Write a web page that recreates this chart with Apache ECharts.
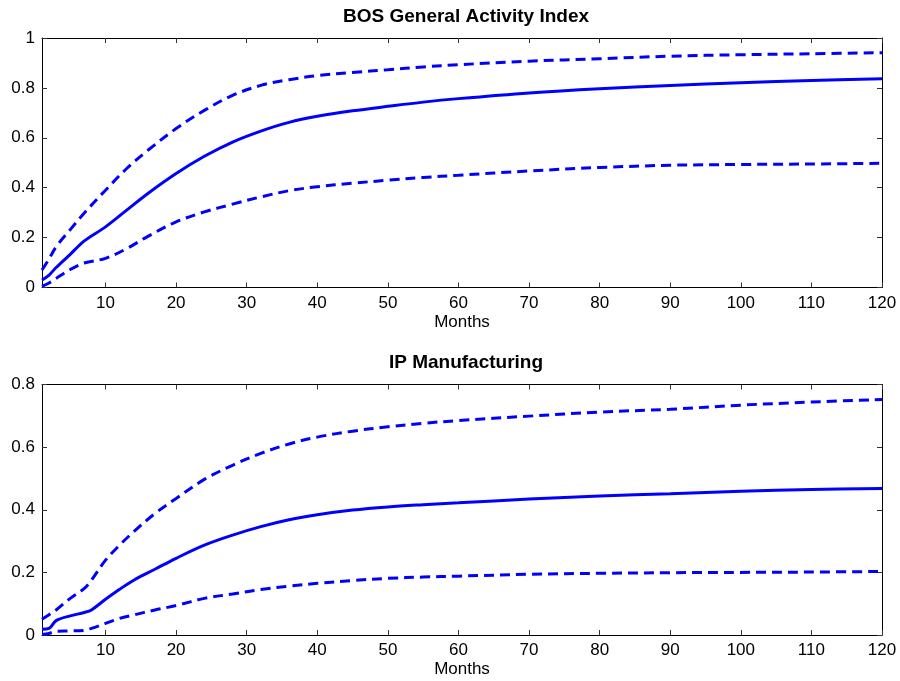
<!DOCTYPE html>
<html>
<head>
<meta charset="utf-8">
<script src="https://cdn.jsdelivr.net/npm/echarts@6/dist/echarts.min.js"></script>
<style>
  html, body { margin: 0; padding: 0; background: #fff; }
  #main { width: 900px; height: 681px; }
</style>
</head>
<body>
<div id="main"></div>
<script>
// impulse responses
const bosMonths = [1, 2, 3, 5, 7, 10, 13, 16, 20, 24, 28, 32, 36, 40, 45, 50, 55, 60, 70, 80, 90, 100, 110, 120];
const bosMid = [0.03, 0.05, 0.08, 0.133, 0.187, 0.243, 0.31, 0.377, 0.457, 0.526, 0.583, 0.627, 0.662, 0.686, 0.708, 0.726, 0.743, 0.757, 0.78, 0.797, 0.81, 0.821, 0.83, 0.837];
const bosUp = [0.07, 0.115, 0.163, 0.232, 0.299, 0.39, 0.477, 0.55, 0.637, 0.71, 0.77, 0.81, 0.833, 0.849, 0.862, 0.873, 0.884, 0.893, 0.907, 0.917, 0.927, 0.933, 0.937, 0.941];
const bosLo = [0.005, 0.018, 0.036, 0.072, 0.098, 0.117, 0.156, 0.205, 0.263, 0.303, 0.334, 0.363, 0.388, 0.404, 0.418, 0.43, 0.441, 0.45, 0.467, 0.481, 0.49, 0.493, 0.495, 0.498];

const ipMonths = [1, 2, 3, 5, 7, 8, 10, 12, 14, 17, 20, 24, 28, 32, 36, 40, 45, 50, 55, 60, 70, 80, 90, 100, 110, 120];
const ipMid = [0.018, 0.021, 0.046, 0.061, 0.072, 0.08, 0.114, 0.146, 0.175, 0.21, 0.245, 0.287, 0.319, 0.346, 0.368, 0.384, 0.399, 0.409, 0.416, 0.422, 0.434, 0.444, 0.451, 0.459, 0.465, 0.468];
const ipUp = [0.05, 0.065, 0.08, 0.117, 0.149, 0.175, 0.239, 0.287, 0.33, 0.388, 0.436, 0.497, 0.542, 0.58, 0.61, 0.632, 0.651, 0.665, 0.676, 0.685, 0.699, 0.712, 0.721, 0.734, 0.744, 0.752];
const ipLo = [0.002, 0.005, 0.012, 0.013, 0.015, 0.021, 0.037, 0.053, 0.064, 0.08, 0.094, 0.117, 0.131, 0.145, 0.156, 0.165, 0.174, 0.181, 0.185, 0.188, 0.194, 0.197, 0.199, 0.2, 0.201, 0.203];

const xTicks = [10, 20, 30, 40, 50, 60, 70, 80, 90, 100, 110, 120];
const titles = ['BOS General Activity Index', 'IP Manufacturing'];
const yMax = [1, 0.8];

const font = 'Liberation Sans, Arial, Helvetica, sans-serif';
const blue = '#0000ff';

function pairs(xs, ys) {
  return xs.map((x, i) => [x, ys[i]]);
}

let chart = echarts.init(document.getElementById('main'), null, { renderer: 'canvas' });

let frame = { show: true, onZero: false, lineStyle: { color: '#000', width: 1 } };
let xAxes = [];
let yAxes = [];
[0, 1].forEach(g => {
  // bottom axis carries labels, top/right ones only mirror the ticks (matlab box)
  xAxes.push({
    type: 'value', gridIndex: g, min: 1, max: 120, position: 'bottom',
    name: 'Months', nameLocation: 'middle', nameGap: 26,
    nameTextStyle: { fontFamily: font, fontSize: 17, color: '#000' },
    axisLine: frame,
    axisTick: { inside: true, length: 5, customValues: xTicks, lineStyle: { color: '#333' } },
    axisLabel: { customValues: xTicks, margin: 7, fontFamily: font, fontSize: 17, color: '#000' },
    splitLine: { show: false }
  });
  xAxes.push({
    type: 'value', gridIndex: g, min: 1, max: 120, position: 'top',
    axisLine: frame,
    axisTick: { inside: true, length: 5, customValues: xTicks, lineStyle: { color: '#333' } },
    axisLabel: { show: false },
    splitLine: { show: false }
  });
  yAxes.push({
    type: 'value', gridIndex: g, min: 0, max: yMax[g], interval: 0.2, position: 'left',
    axisLine: frame,
    axisTick: { show: true, inside: true, length: 5, lineStyle: { color: '#333' } },
    axisLabel: { margin: 7, fontFamily: font, fontSize: 17, color: '#000' },
    splitLine: { show: false }
  });
  yAxes.push({
    type: 'value', gridIndex: g, min: 0, max: yMax[g], interval: 0.2, position: 'right',
    axisLine: frame,
    axisTick: { show: true, inside: true, length: 5, lineStyle: { color: '#333' } },
    axisLabel: { show: false },
    splitLine: { show: false }
  });
});

function line(data, g, dashed) {
  return {
    type: 'line', xAxisIndex: g * 2, yAxisIndex: g * 2,
    data: data, smooth: 0.35,
    showSymbol: false, silent: true,
    lineStyle: { color: blue, width: 3, type: dashed ? [10, 6] : 'solid' }
  };
}

chart.setOption({
  animation: false,
  title: [
    { text: titles[0], left: 461, top: 2, textAlign: 'center',
      textStyle: { fontFamily: font, fontSize: 19, fontWeight: 'bold', color: '#000' } },
    { text: titles[1], left: 461, top: 348, textAlign: 'center',
      textStyle: { fontFamily: font, fontSize: 19, fontWeight: 'bold', color: '#000' } }
  ],
  grid: [
    { left: 42, right: 18, top: 38, height: 249.5 },
    { left: 42, right: 18, top: 384.5, height: 250.5 }
  ],
  xAxis: xAxes,
  yAxis: yAxes,
  series: [
    line(pairs(bosMonths, bosUp), 0, true),
    line(pairs(bosMonths, bosMid), 0, false),
    line(pairs(bosMonths, bosLo), 0, true),
    line(pairs(ipMonths, ipUp), 1, true),
    line(pairs(ipMonths, ipMid), 1, false),
    line(pairs(ipMonths, ipLo), 1, true)
  ]
});
</script>
</body>
</html>
